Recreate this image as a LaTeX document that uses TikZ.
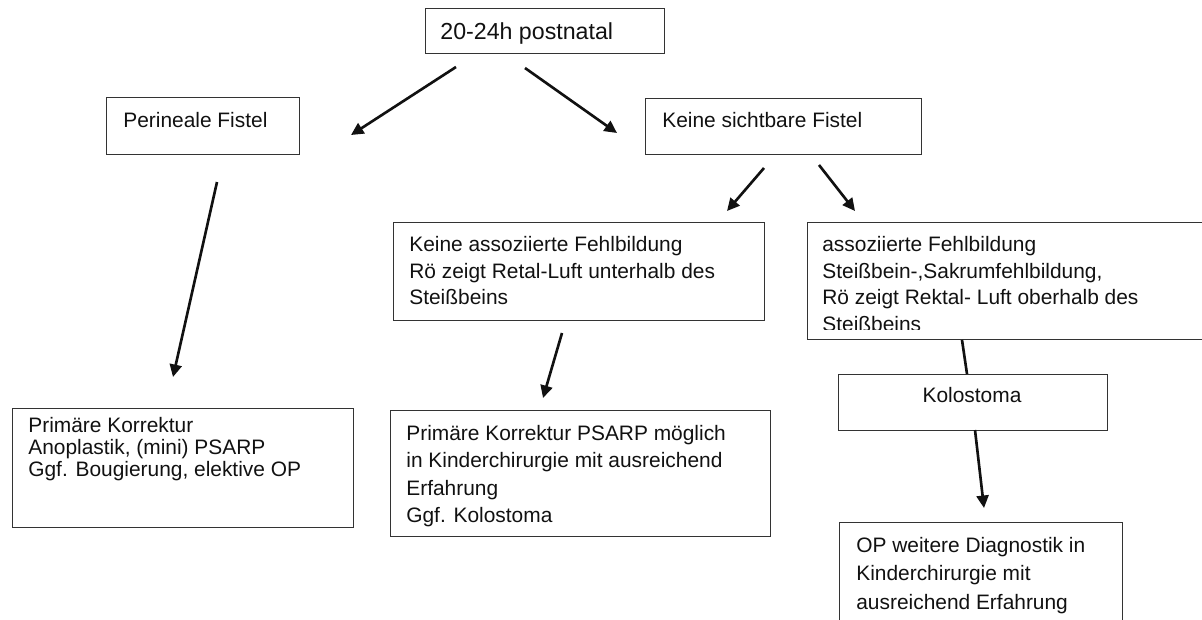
\documentclass[tikz,border=0pt]{standalone}
\usepackage{fontspec}
\setmainfont{Liberation Sans}
\usepackage{xcolor}
\definecolor{Ink}{HTML}{111111}
\definecolor{Frame}{HTML}{333333}
\usetikzlibrary{arrows.meta}

\begin{document}
\begin{tikzpicture}[x=0.02cm,y=-0.02cm,
  box/.style={draw=Frame,line width=0.8pt,anchor=north west,inner sep=0pt},
  txt/.style={anchor=north west,align=left,inner sep=0pt,text=Ink,font=\fontsize{11.9}{15.1}\selectfont},
  arrow/.style={-{Triangle[length=2.5mm,width=2.4mm]},line width=1.5pt,color=Ink},
  link/.style={line width=1.5pt,color=Ink}
]
\useasboundingbox (0,0) rectangle (1202,619);
\node[box,minimum width=4.78cm,minimum height=0.9cm] (start) at (425,8) {};
\node[box,minimum width=3.86cm,minimum height=1.14cm] (per) at (106,97) {};
\node[box,minimum width=5.52cm,minimum height=1.12cm] (keine) at (645,98) {};
\node[box,minimum width=7.42cm,minimum height=1.96cm] (ka) at (393,222) {};
\node[box,minimum width=8.16cm,minimum height=2.34cm] (ass) at (807,222) {};
\node[box,minimum width=5.38cm,minimum height=1.12cm] (kol) at (838,374) {};
\node[box,minimum width=6.82cm,minimum height=2.38cm] (pk1) at (12,408) {};
\node[box,minimum width=7.6cm,minimum height=2.52cm] (pk2) at (390,410) {};
\node[box,minimum width=5.66cm,minimum height=2.4cm] (op) at (839,522) {};

\node[txt,font=\fontsize{13.2}{16}\selectfont] (start-t) at (440,22) {20-24h postnatal};
\node[txt] (per-t) at (123,112) {Perineale Fistel};
\node[txt] (keine-t) at (662,112) {Keine sichtbare Fistel};
\node[txt] (ka-t) at (409,236) {Keine assoziierte Fehlbildung\\Rö zeigt Retal-Luft unterhalb des\\Steißbeins};
\begin{scope}
\clip (807,222) rectangle (1215,329);
\node[txt] (ass-t) at (822,236) {assoziierte Fehlbildung\\Steißbein-,Sakrumfehlbildung,\\Rö zeigt Rektal- Luft oberhalb des\\Steißbeins};
\end{scope}
\node[txt,anchor=north] (kol-t) at (972,387) {Kolostoma};
\node[txt,font=\fontsize{11.9}{12.6}\selectfont] (pk1-t) at (28,417) {Primäre Korrektur\\Anoplastik, (mini) PSARP\\Ggf. Bougierung, elektive OP};
\node[txt,font=\fontsize{11.9}{15.6}\selectfont] (pk2-t) at (406,425) {Primäre Korrektur PSARP möglich\\in Kinderchirurgie mit ausreichend\\Erfahrung\\Ggf. Kolostoma};
\node[txt,font=\fontsize{11.9}{16.2}\selectfont] (op-t) at (856,537) {OP weitere Diagnostik in\\Kinderchirurgie mit\\ausreichend Erfahrung};

\coordinate (start-l) at (456,67);
\coordinate (per-in) at (351,135);
\coordinate (start-r) at (525,68);
\coordinate (keine-in) at (617,133);
\coordinate (per-out) at (217,182);
\coordinate (pk1-in) at (173,377);
\coordinate (keine-l) at (764,168);
\coordinate (ka-in) at (727,211);
\coordinate (keine-r) at (819,165);
\coordinate (ass-in) at (855,211);
\coordinate (ka-out) at (562,333);
\coordinate (pk2-in) at (543,398);
\coordinate (ass-out) at (962,340);
\coordinate (kol-in) at (967,374);
\coordinate (kol-out) at (975,430);
\coordinate (op-in) at (984,508);
\draw[arrow] (start-l)--(per-in);
\draw[arrow] (start-r)--(keine-in);
\draw[arrow] (per-out)--(pk1-in);
\draw[arrow] (keine-l)--(ka-in);
\draw[arrow] (keine-r)--(ass-in);
\draw[arrow] (ka-out)--(pk2-in);
\draw[link] (ass-out)--(kol-in);
\draw[arrow] (kol-out)--(op-in);
\end{tikzpicture}
\end{document}
